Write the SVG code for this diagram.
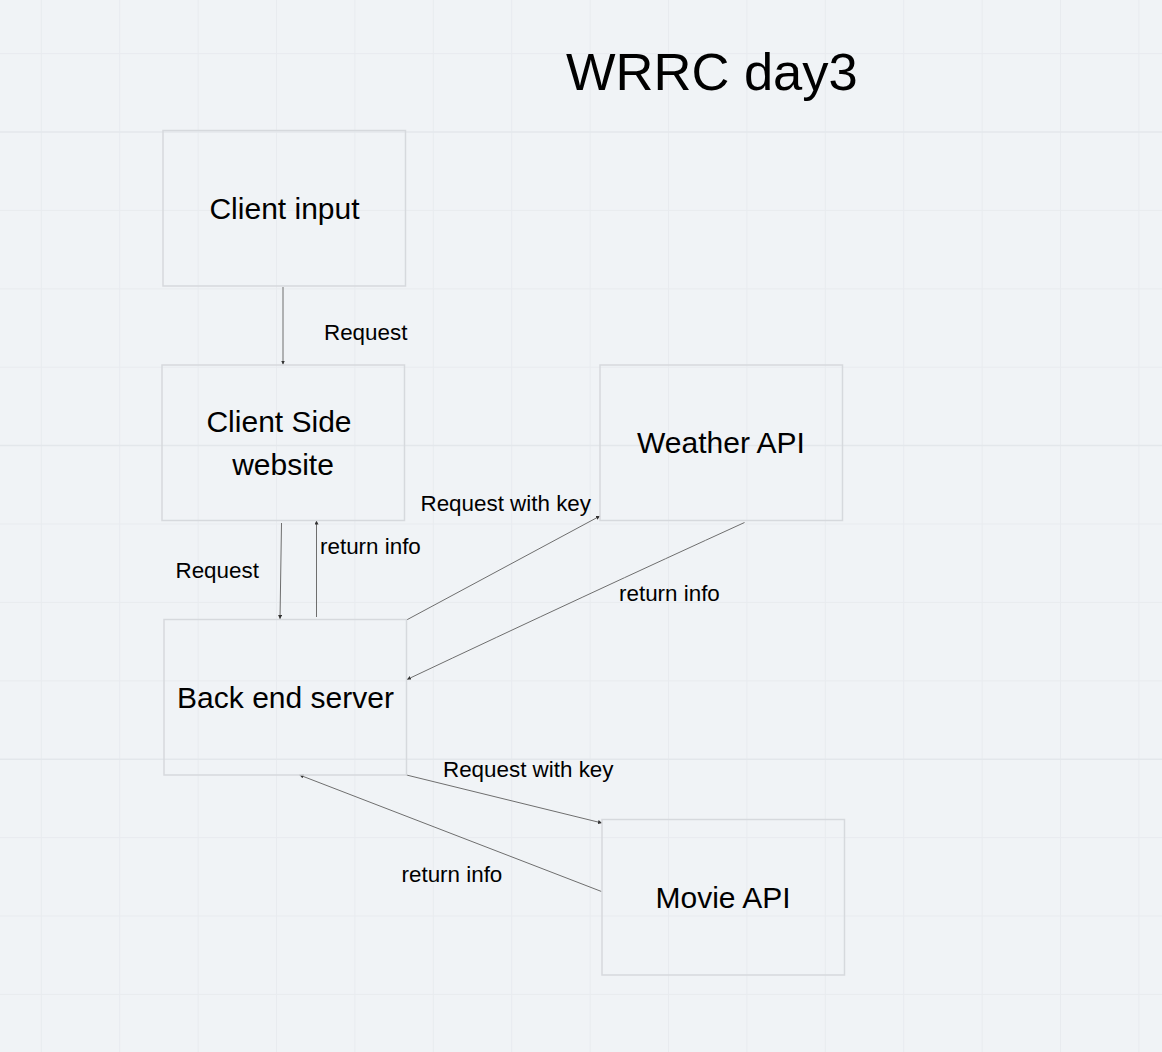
<svg xmlns="http://www.w3.org/2000/svg" width="1162" height="1052" viewBox="0 0 1162 1052">
<defs>
<style>
.grid{stroke:#e8ebef;stroke-width:1;fill:none}
.gridm{stroke:#e3e7eb;stroke-width:1.5;fill:none}
.box{fill:none;stroke:#d6d9dd;stroke-width:1.5}
.nt{font-family:"Liberation Sans",Arial,sans-serif;font-size:30px;fill:#000;text-anchor:middle}
.lb{font-family:"Liberation Sans",Arial,sans-serif;font-size:22.4px;fill:#000}
.title{font-family:"Liberation Sans",Arial,sans-serif;font-size:52.5px;fill:#000}
.cn{stroke:#6e6e6e;stroke-width:1;fill:none;marker-end:url(#ah)}
</style>
<marker id="ah" viewBox="0 0 10 10" refX="10" refY="5" markerWidth="4" markerHeight="4" markerUnits="userSpaceOnUse" orient="auto">
<path d="M0,0 L10,5 L0,10 z" fill="#333"/>
</marker>
</defs>
<rect width="1162" height="1052" fill="#f0f3f6"/>
<g id="grid">
<path class="grid" d="M41.3,0V1052M119.7,0V1052M198.1,0V1052M276.5,0V1052M354.9,0V1052M433.3,0V1052M511.7,0V1052M590.1,0V1052M668.5,0V1052M746.9,0V1052M825.3,0V1052M903.7,0V1052M982.1,0V1052M1060.5,0V1052M1138.9,0V1052"/>
<path class="grid" d="M0,53.6H1162M0,210.4H1162M0,288.8H1162M0,367.2H1162M0,524H1162M0,602.4H1162M0,680.8H1162M0,837.6H1162M0,916H1162M0,994.4H1162"/>
<path class="gridm" d="M0,132H1162M0,445.6H1162M0,759.2H1162"/>
</g>
<text class="title" x="566" y="90">WRRC day3</text>
<g id="connectors">
<line class="cn" x1="283" y1="287" x2="283" y2="364.5"/>
<line class="cn" x1="281.5" y1="523" x2="280" y2="619"/>
<line class="cn" x1="316.5" y1="617" x2="316.5" y2="520.5"/>
<line class="cn" x1="406.5" y1="620" x2="600" y2="516"/>
<path class="cn" d="M744.5,522.5 Q590,593 407,679.5"/>
<line class="cn" x1="406.5" y1="775" x2="602" y2="823"/>
<line class="cn" x1="601.5" y1="891.5" x2="299.5" y2="775"/>
<text class="lb" x="324" y="340">Request</text>
<text class="lb" x="175.5" y="577.5">Request</text>
<text class="lb" x="320" y="554">return info</text>
<text class="lb" x="420.5" y="511">Request with key</text>
<text class="lb" x="619" y="601">return info</text>
<text class="lb" x="443" y="777">Request with key</text>
<text class="lb" x="401.5" y="881.5">return info</text>
</g>
<g id="client-input">
<rect class="box" x="163" y="130.5" width="242.5" height="155.5"/>
<text class="nt" x="284.5" y="219">Client input</text>
</g>
<g id="client-side">
<rect class="box" x="162" y="365" width="242.5" height="155.5"/>
<text class="nt" x="279" y="432">Client Side</text>
<text class="nt" x="283" y="475">website</text>
</g>
<g id="weather-api">
<rect class="box" x="600" y="365" width="242.5" height="155.5"/>
<text class="nt" x="721" y="453">Weather API</text>
</g>
<g id="back-end">
<rect class="box" x="164" y="619.5" width="242.5" height="155.5"/>
<text class="nt" x="285.5" y="708">Back end server</text>
</g>
<g id="movie-api">
<rect class="box" x="602" y="819.5" width="242.5" height="155.5"/>
<text class="nt" x="723" y="908">Movie API</text>
</g>
</svg>
